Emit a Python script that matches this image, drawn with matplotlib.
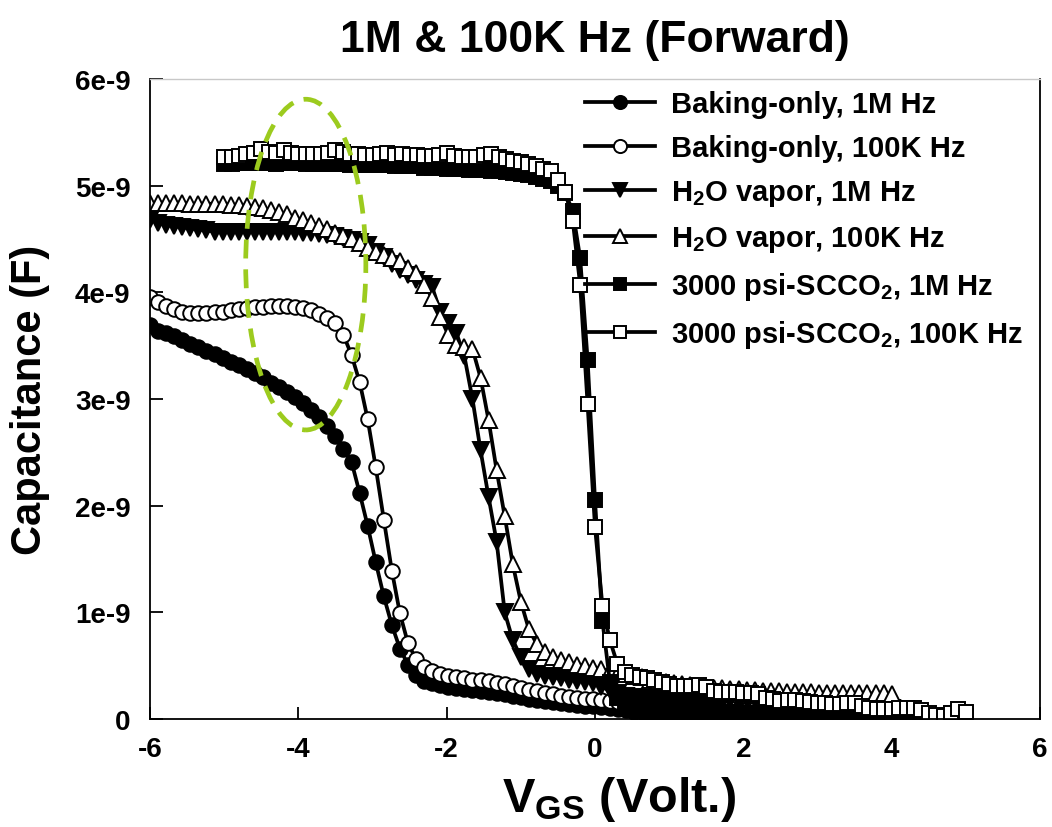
import numpy as np
import matplotlib.pyplot as plt
from matplotlib.patches import Ellipse

plt.rcParams['font.family'] = 'Liberation Sans'
plt.rcParams['font.weight'] = 'bold'
plt.rcParams['mathtext.fontset'] = 'custom'
plt.rcParams['mathtext.rm'] = 'Liberation Sans:bold'
plt.rcParams['mathtext.it'] = 'Liberation Sans:bold'
plt.rcParams['mathtext.bf'] = 'Liberation Sans:bold'
plt.rcParams['axes.unicode_minus'] = False

# gate sweeps: baking / H2O run -6 V .. 4 V in 92 steps, SCCO2 runs -5 V .. 5 V in 0.1 V steps
SWEEP_A_START, SWEEP_A_STEP = -6.0, 10.0 / 92
SWEEP_B_START, SWEEP_B_STEP = -5.0, 0.1

# capacitance in nF
bake_1m = [3.69, 3.64, 3.62, 3.59, 3.55, 3.52, 3.49, 3.45, 3.42, 3.38,
           3.35, 3.32, 3.28, 3.24, 3.21, 3.15, 3.11, 3.07, 3.02, 2.96,
           2.90, 2.83, 2.75, 2.65, 2.53, 2.41, 2.12, 1.81, 1.47, 1.15,
           0.88, 0.66, 0.51, 0.41, 0.36, 0.34, 0.32, 0.30, 0.29, 0.28,
           0.27, 0.26, 0.25, 0.24, 0.23, 0.22, 0.21, 0.19, 0.18, 0.17,
           0.16, 0.15, 0.14, 0.13, 0.12, 0.12, 0.11, 0.10, 0.09, 0.08,
           0.07, 0.07, 0.06, 0.06, 0.06, 0.05, 0.05, 0.05, 0.05, 0.05,
           0.04, 0.04, 0.04, 0.04, 0.04, 0.04, 0.04, 0.03, 0.03, 0.03,
           0.03, 0.03, 0.03, 0.03, 0.03, 0.02, 0.02, 0.02, 0.02, 0.02,
           0.02, 0.02, 0.02]
bake_100k = [3.96, 3.91, 3.87, 3.84, 3.82, 3.81, 3.81, 3.81, 3.82, 3.82,
             3.83, 3.84, 3.85, 3.86, 3.86, 3.87, 3.87, 3.87, 3.86, 3.85,
             3.83, 3.80, 3.76, 3.71, 3.60, 3.41, 3.16, 2.81, 2.36, 1.87,
             1.39, 0.99, 0.71, 0.56, 0.49, 0.45, 0.42, 0.40, 0.39, 0.38,
             0.37, 0.37, 0.36, 0.34, 0.33, 0.31, 0.29, 0.27, 0.26, 0.24,
             0.23, 0.22, 0.21, 0.20, 0.19, 0.19, 0.18, 0.17, 0.16, 0.15,
             0.15, 0.14, 0.14, 0.13, 0.13, 0.12, 0.12, 0.11, 0.11, 0.11,
             0.10, 0.10, 0.10, 0.09, 0.09, 0.09, 0.09, 0.08, 0.08, 0.08,
             0.08, 0.07, 0.07, 0.07, 0.07, 0.07, 0.06, 0.06, 0.06, 0.06,
             0.06, 0.06, 0.06]
h2o_1m = [4.68, 4.65, 4.63, 4.62, 4.61, 4.60, 4.59, 4.58, 4.57, 4.57,
          4.57, 4.57, 4.57, 4.57, 4.57, 4.57, 4.57, 4.57, 4.57, 4.56,
          4.56, 4.55, 4.54, 4.53, 4.51, 4.49, 4.47, 4.44, 4.38, 4.33,
          4.27, 4.21, 4.16, 4.12, 4.08, 4.05, 3.82, 3.71, 3.62, 3.40,
          3.00, 2.52, 2.08, 1.66, 1.00, 0.74, 0.58, 0.47, 0.42, 0.40,
          0.39, 0.38, 0.37, 0.36, 0.35, 0.34, 0.30, 0.27, 0.24, 0.22,
          0.21, 0.20, 0.20, 0.20, 0.20, 0.19, 0.19, 0.19, 0.19, 0.19,
          0.19, 0.18, 0.18, 0.18, 0.18, 0.18, 0.18, 0.17, 0.17, 0.16,
          0.16, 0.15, 0.15, 0.14, 0.14, 0.13, 0.13, 0.12, 0.12, 0.11,
          0.11, 0.10, 0.10]
h2o_100k = [4.84, 4.84, 4.84, 4.84, 4.84, 4.83, 4.83, 4.83, 4.83, 4.83,
            4.82, 4.82, 4.81, 4.80, 4.79, 4.77, 4.75, 4.73, 4.70, 4.68,
            4.65, 4.62, 4.59, 4.56, 4.53, 4.50, 4.46, 4.42, 4.38, 4.35,
            4.32, 4.29, 4.23, 4.18, 4.07, 3.95, 3.77, 3.60, 3.51, 3.49,
            3.47, 3.20, 2.80, 2.33, 1.90, 1.45, 1.10, 0.84, 0.70, 0.63,
            0.58, 0.55, 0.53, 0.51, 0.50, 0.48, 0.47, 0.45, 0.43, 0.42,
            0.40, 0.39, 0.37, 0.36, 0.35, 0.34, 0.33, 0.32, 0.31, 0.30,
            0.29, 0.29, 0.28, 0.28, 0.27, 0.27, 0.26, 0.26, 0.26, 0.25,
            0.25, 0.25, 0.25, 0.24, 0.24, 0.24, 0.24, 0.24, 0.24, 0.24,
            0.24, 0.24, 0.23]
scco2_1m = [5.20, 5.20, 5.21, 5.21, 5.21, 5.21, 5.21, 5.20, 5.21, 5.21,
            5.21, 5.20, 5.20, 5.20, 5.20, 5.20, 5.20, 5.19, 5.19, 5.19,
            5.19, 5.19, 5.19, 5.18, 5.18, 5.18, 5.18, 5.17, 5.17, 5.17,
            5.16, 5.16, 5.16, 5.15, 5.15, 5.15, 5.14, 5.14, 5.13, 5.12,
            5.11, 5.10, 5.08, 5.06, 5.04, 5.00, 4.93, 4.76, 4.32, 3.37,
            2.05, 0.92, 0.35, 0.20, 0.16, 0.14, 0.13, 0.12, 0.11, 0.11,
            0.10, 0.10, 0.09, 0.09, 0.08, 0.08, 0.08, 0.07, 0.07, 0.07,
            0.06, 0.06, 0.06, 0.05, 0.05, 0.05, 0.04, 0.04, 0.04, 0.04,
            0.04, 0.03, 0.03, 0.03, 0.03, 0.03, 0.03, 0.03, 0.03, 0.03,
            0.03, 0.03, 0.03, 0.03, 0.03, 0.03, 0.03, 0.03, 0.03, 0.03,
            0.03]
scco2_100k = [5.27, 5.27, 5.28, 5.30, 5.31, 5.34, 5.32, 5.31, 5.33, 5.31,
              5.30, 5.30, 5.30, 5.30, 5.31, 5.33, 5.32, 5.30, 5.30, 5.29,
              5.29, 5.30, 5.31, 5.29, 5.30, 5.29, 5.29, 5.28, 5.28, 5.29,
              5.31, 5.28, 5.27, 5.27, 5.27, 5.29, 5.30, 5.27, 5.25, 5.23,
              5.22, 5.20, 5.18, 5.16, 5.14, 5.05, 4.94, 4.67, 4.07, 2.95,
              1.80, 1.06, 0.74, 0.52, 0.44, 0.41, 0.39, 0.38, 0.37, 0.35,
              0.33, 0.31, 0.31, 0.31, 0.32, 0.30, 0.26, 0.25, 0.25, 0.25,
              0.24, 0.24, 0.23, 0.20, 0.19, 0.17, 0.18, 0.18, 0.17, 0.16,
              0.15, 0.15, 0.14, 0.14, 0.15, 0.15, 0.12, 0.10, 0.09, 0.09,
              0.09, 0.10, 0.10, 0.10, 0.08, 0.06, 0.04, 0.03, 0.06, 0.09,
              0.07]

labels = ['Baking-only, 1M Hz', 'Baking-only, 100K Hz',
          'H$_2$O vapor, 1M Hz', 'H$_2$O vapor, 100K Hz',
          '3000 psi-SCCO$_2$, 1M Hz', '3000 psi-SCCO$_2$, 100K Hz']

x_ticks = [-6, -4, -2, 0, 2, 4, 6]
y_ticks = [0, 1e-9, 2e-9, 3e-9, 4e-9, 5e-9, 6e-9]
y_tick_labels = ['0', '1e-9', '2e-9', '3e-9', '4e-9', '5e-9', '6e-9']

# highlight around the low-voltage hump (V, nF)
ELL_CENTER = (-3.9, 4.26)
ELL_WIDTH, ELL_HEIGHT = 1.62, 3.10


def sweep(start, step, values):
    return start + step * np.arange(len(values))


series = [
    (sweep(SWEEP_A_START, SWEEP_A_STEP, bake_1m), bake_1m, 'o', 'black', 10.5),
    (sweep(SWEEP_A_START, SWEEP_A_STEP, bake_100k), bake_100k, 'o', 'white', 10.5),
    (sweep(SWEEP_A_START, SWEEP_A_STEP, h2o_1m), h2o_1m, 'v', 'black', 11),
    (sweep(SWEEP_A_START, SWEEP_A_STEP, h2o_100k), h2o_100k, '^', 'white', 11),
    (sweep(SWEEP_B_START, SWEEP_B_STEP, scco2_1m), scco2_1m, 's', 'black', 9.5),
    (sweep(SWEEP_B_START, SWEEP_B_STEP, scco2_100k), scco2_100k, 's', 'white', 9.5),
]

fig = plt.figure(figsize=(10.52, 8.28), dpi=100)
ax = fig.add_axes([0.1426, 0.1304, 0.8460, 0.7730])

for (v, c, marker, face, ms), label in zip(series, labels):
    ax.plot(v, np.array(c) * 1e-9, color='black', linewidth=2.7, marker=marker,
            markersize=ms, markerfacecolor=face, markeredgecolor='black',
            markeredgewidth=1.4, label=label)

ell = Ellipse((ELL_CENTER[0], ELL_CENTER[1] * 1e-9), ELL_WIDTH, ELL_HEIGHT * 1e-9,
              fill=False, edgecolor='#9ccb1e', linewidth=3.4,
              linestyle=(0, (4.0, 2.3)), zorder=5)
ax.add_patch(ell)

ax.set_xlim(-6, 6)
ax.set_ylim(0, 6e-9)
ax.set_xticks(x_ticks)
ax.set_xticklabels([str(t) for t in x_ticks])
ax.set_yticks(y_ticks)
ax.set_yticklabels(y_tick_labels)
ax.tick_params(direction='in', length=9, width=1.3, labelsize=20)
ax.tick_params(axis='x', pad=12)
ax.tick_params(axis='y', pad=14)
for side in ['left', 'bottom', 'right']:
    ax.spines[side].set_linewidth(1.3)
ax.spines['top'].set_linewidth(1.0)
ax.spines['top'].set_color('#c8c8c8')

ax.set_title('1M & 100K Hz (Forward)', fontsize=32, fontweight='bold', pad=20)
ax.set_xlabel('V$_{GS}$ (Volt.)', fontsize=35, fontweight='bold')
ax.xaxis.set_label_coords(0.527, -0.086)
ax.set_ylabel('Capacitance (F)', fontsize=30, fontweight='bold', labelpad=18)

ax.legend(loc='upper right', bbox_to_anchor=(1.0, 1.01), frameon=False,
          fontsize=21, handlelength=2.4, handletextpad=0.55, labelspacing=0.55,
          borderaxespad=0.2, markerscale=0.9)

fig.savefig('out.png', dpi=100)
